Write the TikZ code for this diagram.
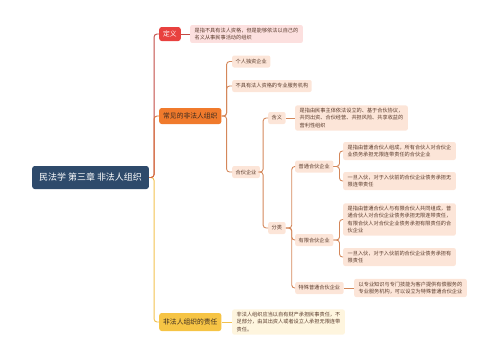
\documentclass[tikz,border=0pt]{standalone}
\usepackage{fontspec}
\setmainfont{Noto Sans CJK SC}
\usetikzlibrary{calc}
\definecolor{rootc}{HTML}{2E4A6B}
\definecolor{redc}{HTML}{E8413F}
\definecolor{orangec}{HTML}{F07A2C}
\definecolor{yellowc}{HTML}{F6C445}
\definecolor{pinkc}{HTML}{FCE0DF}
\definecolor{peachc}{HTML}{FCE5D8}
\definecolor{lyellowc}{HTML}{FEF5DE}
\definecolor{redline}{HTML}{C24A43}
\definecolor{orangeline}{HTML}{D9703A}
\definecolor{brownline}{HTML}{D4875A}
\definecolor{yellowline}{HTML}{F2C14E}
\definecolor{leaftext}{HTML}{5A3B2C}
\definecolor{darktext}{HTML}{3A2A20}
\begin{document}
\begin{tikzpicture}[x=1bp,y=-1bp,
  rootbox/.style={fill=rootc, text=white, rounded corners=2.5bp, font=\fontsize{9}{11}\selectfont, inner xsep=7bp, inner ysep=0pt, minimum height=23bp, anchor=west},
  brbox/.style={rounded corners=2.5bp, font=\fontsize{6.8}{8}\selectfont, inner xsep=4bp, inner ysep=0pt, anchor=west},
  midbox/.style={fill=peachc, text=leaftext, rounded corners=2bp, font=\fontsize{5.2}{6.5}\selectfont, inner xsep=3.5bp, inner ysep=0pt, minimum height=12bp, anchor=west},
  leafbox/.style={rounded corners=2bp, text=leaftext, font=\fontsize{5.2}{7.2}\selectfont, align=left, inner xsep=4.5bp, inner ysep=3bp, anchor=west},
  conn/.style={line width=0.9bp, rounded corners=3bp},
]
\useasboundingbox (0,0) rectangle (500,360);
% root
\node[rootbox] (root) at (32,177.5) {民法学 第三章 非法人组织};
% branch 1
\node[brbox, fill=redc, text=white, minimum height=14bp] (def) at (159,34) {定义};
\node[leafbox, fill=pinkc] (defl) at (190,34) {是指不具有法人资格，但是能够依法以自己的\\名义从事民事活动的组织};
% branch 2
\node[brbox, fill=orangec, text=darktext, minimum height=16bp] (com) at (159,116) {常见的非法人组织};
\node[midbox] (m1) at (232,61.5) {个人独资企业};
\node[midbox] (m2) at (232,86) {不具有法人资格的专业服务机构};
\node[midbox] (hh) at (232,172) {合伙企业};
\node[midbox] (hy) at (268,118) {含义};
\node[leafbox, fill=peachc] (hyl) at (295,118) {是指由民事主体依法设立的、基于合伙协议，\\共同出资、合伙经营、共担风险、共享收益的\\营利性组织};
\node[midbox] (fl) at (268,228) {分类};
\node[midbox] (pt) at (295,166.5) {普通合伙企业};
\node[leafbox, fill=peachc] (pt1) at (343,151) {是指由普通合伙人组成，所有合伙人对合伙企\\业债务承担无限连带责任的合伙企业};
\node[leafbox, fill=peachc] (pt2) at (343,181) {一旦入伙，对于入伙前的合伙企业债务承担无\\限连带责任};
\node[midbox] (yx) at (295,240) {有限合伙企业};
\node[leafbox, fill=peachc] (yx1) at (343,219.5) {是指由普通合伙人与有限合伙人共同组成，普\\通合伙人对合伙企业债务承担无限连带责任，\\有限合伙人对合伙企业债务承担有限责任的合\\伙企业};
\node[leafbox, fill=peachc] (yx2) at (343,257) {一旦入伙，对于入伙前的合伙企业债务承担有\\限责任};
\node[midbox] (ts) at (295,288) {特殊普通合伙企业};
\node[leafbox, fill=peachc] (tsl) at (354,288) {以专业知识与专门技能为客户提供有偿服务的\\专业服务机构，可以设立为特殊普通合伙企业};
% branch 3
\node[brbox, fill=yellowc, text=darktext, minimum height=18bp] (zr) at (159,322) {非法人组织的责任};
\node[leafbox, fill=lyellowc] (zrl) at (232,322) {非法人组织应当以自有财产承担民事责任，不\\足部分，由其出资人或者设立人承担无限连带\\责任。};
% connectors
\draw[conn, yellowline] (root.east) -- ++(5,0) |- (zr.west);
\draw[conn, redline] (root.east) -- ++(5,0) |- (def.west);
\draw[conn, orangeline] (root.east) -- ++(5,0) |- (com.west);
\draw[conn, redline] (def.east) -- (defl.west);
\draw[conn, yellowline] (zr.east) -- (zrl.west);
\draw[conn, brownline] (com.east) -- ++(5,0) |- (m1.west);
\draw[conn, brownline] (com.east) -- ++(5,0) |- (m2.west);
\draw[conn, brownline] (com.east) -- ++(5,0) |- (hh.west);
\draw[conn, brownline] (hh.east) -- ++(3,0) |- (hy.west);
\draw[conn, brownline] (hh.east) -- ++(3,0) |- (fl.west);
\draw[conn, brownline] (hy.east) -- (hyl.west);
\draw[conn, brownline] (fl.east) -- ++(6,0) |- (pt.west);
\draw[conn, brownline] (fl.east) -- ++(6,0) |- (yx.west);
\draw[conn, brownline] (fl.east) -- ++(6,0) |- (ts.west);
\draw[conn, brownline] (pt.east) -- ++(6,0) |- (pt1.west);
\draw[conn, brownline] (pt.east) -- ++(6,0) |- (pt2.west);
\draw[conn, brownline] (yx.east) -- ++(6,0) |- (yx1.west);
\draw[conn, brownline] (yx.east) -- ++(6,0) |- (yx2.west);
\draw[conn, brownline] (ts.east) -- (tsl.west);
\end{tikzpicture}
\end{document}
